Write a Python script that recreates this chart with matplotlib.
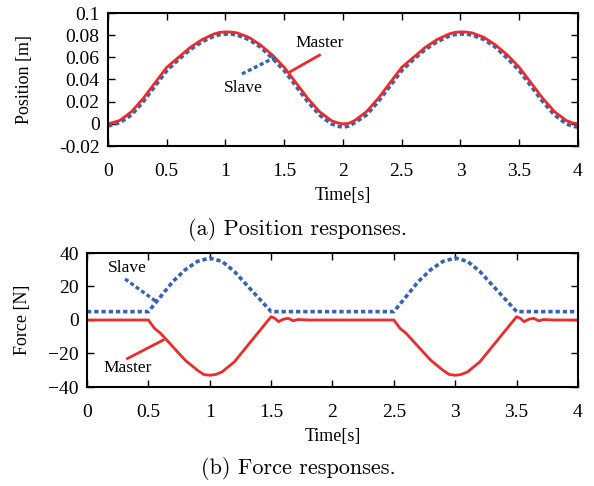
import matplotlib.pyplot as plt

# ------------------------------------------------------------------
# data
# ------------------------------------------------------------------
t_pos = [0.0, 0.1, 0.2, 0.3, 0.4, 0.5, 0.6, 0.7, 0.8, 0.9, 0.95, 1.0, 1.05,
         1.1, 1.2, 1.3, 1.4, 1.5, 1.6, 1.7, 1.8, 1.9, 1.95, 2.0, 2.05,
         2.1, 2.2, 2.3, 2.4, 2.5, 2.6, 2.7, 2.8, 2.9, 2.95, 3.0, 3.05,
         3.1, 3.2, 3.3, 3.4, 3.5, 3.6, 3.7, 3.8, 3.9, 3.95, 4.0]
pos_master = [0.000, 0.003, 0.011, 0.023, 0.037, 0.051, 0.060, 0.069, 0.076, 0.081, 0.0825, 0.083, 0.0828,
              0.082, 0.078, 0.071, 0.062, 0.051, 0.037, 0.023, 0.011, 0.003, 0.001, 0.000, 0.0005,
              0.003, 0.011, 0.023, 0.037, 0.051, 0.060, 0.069, 0.076, 0.081, 0.0825, 0.083, 0.0828,
              0.082, 0.078, 0.071, 0.062, 0.051, 0.037, 0.023, 0.011, 0.003, 0.001, 0.000]
pos_slave = [-0.002, 0.001, 0.008, 0.020, 0.034, 0.048, 0.058, 0.067, 0.074, 0.079, 0.0805, 0.081, 0.081,
             0.080, 0.076, 0.069, 0.059, 0.048, 0.034, 0.020, 0.008, 0.000, -0.002, -0.003, -0.002,
             0.001, 0.008, 0.020, 0.034, 0.048, 0.058, 0.067, 0.074, 0.079, 0.0805, 0.081, 0.081,
             0.080, 0.076, 0.069, 0.059, 0.048, 0.034, 0.020, 0.008, 0.000, -0.002, -0.003]

t_fm = [0.0, 0.5, 0.52, 0.55, 0.6, 0.7, 0.8, 0.9, 0.95, 1.0, 1.05, 1.1, 1.2, 1.3, 1.4, 1.5,
        1.53, 1.56, 1.6, 1.64, 1.68, 1.72, 1.8, 2.5,
        2.52, 2.55, 2.6, 2.7, 2.8, 2.9, 2.95, 3.0, 3.05, 3.1, 3.2, 3.3, 3.4, 3.5,
        3.53, 3.56, 3.6, 3.64, 3.68, 3.72, 3.8, 4.0]
f_master = [0, 0, -2, -5, -8, -16, -24, -30, -32.5, -33, -32.5, -31, -25, -16, -7, 2,
            1, -1, 0.5, 1, -0.5, 0.3, 0, 0,
            -2, -5, -8, -16, -24, -30, -32.5, -33, -32.5, -31, -25, -16, -7, 2,
            1, -1, 0.5, 1, -0.5, 0.3, 0, 0]

t_fs = [0.0, 0.5, 0.6, 0.7, 0.8, 0.9, 1.0, 1.1, 1.2, 1.3, 1.4, 1.5, 2.5,
        2.6, 2.7, 2.8, 2.9, 3.0, 3.1, 3.2, 3.3, 3.4, 3.5, 4.0]
f_slave = [5, 5, 14, 23, 30, 35, 37, 35, 29, 21, 13, 5, 5,
           14, 23, 30, 35, 37, 35, 29, 21, 13, 5, 5]

x_ticks = [0, 0.5, 1, 1.5, 2, 2.5, 3, 3.5, 4]
x_ticklabels = ['0', '0.5', '1', '1.5', '2', '2.5', '3', '3.5', '4']
pos_ticks = [-0.02, 0, 0.02, 0.04, 0.06, 0.08, 0.1]
pos_ticklabels = ['-0.02', '0', '0.02', '0.04', '0.06', '0.08', '0.1']
force_ticks = [-40, -20, 0, 20, 40]

RED = '#ee2a2a'
BLUE = '#3a62b4'
SERIF = 'Liberation Serif'
DOTS = (0, (1.2, 0.8))

plt.rcParams['font.family'] = SERIF

fig = plt.figure(figsize=(5.94, 4.86), dpi=100)
W, H = 594, 486
ax1 = fig.add_axes([108 / W, 1 - 146 / H, 470 / W, 133 / H])
ax2 = fig.add_axes([87 / W, 1 - 387 / H, 491 / W, 134 / H])


def style(ax):
    ax.set_xlim(0, 4)
    ax.set_xticks(x_ticks)
    ax.set_xticklabels(x_ticklabels)
    ax.tick_params(direction='in', top=True, right=True, length=5, width=1,
                   labelsize=14, pad=6)
    ax.tick_params(axis='x', pad=12)
    for s in ax.spines.values():
        s.set_linewidth(1.5)
    ax.set_xlabel('Time[s]', fontsize=13, labelpad=5)


# --- (a) position --------------------------------------------------
ax1.plot(t_pos, pos_slave, color=BLUE, lw=2.6, ls=DOTS)
ax1.plot(t_pos, pos_master, color=RED, lw=2.0)
ax1.set_ylim(-0.02, 0.1)
ax1.set_yticks(pos_ticks)
ax1.set_yticklabels(pos_ticklabels)
style(ax1)
ax1.set_ylabel('Position [m]', fontsize=13, labelpad=19)

ax1.plot([1.55, 1.80], [0.047, 0.062], color=RED, lw=2)
ax1.text(1.80, 0.073, 'Master', ha='center', va='center', fontsize=12.5)
ax1.plot([1.14, 1.44], [0.045, 0.061], color=BLUE, lw=2.4, ls=DOTS)
ax1.text(1.15, 0.032, 'Slave', ha='center', va='center', fontsize=12.5)

# --- (b) force -----------------------------------------------------
ax2.plot(t_fs, f_slave, color=BLUE, lw=2.6, ls=DOTS)
ax2.plot(t_fm, f_master, color=RED, lw=2.0)
ax2.set_ylim(-40, 40)
ax2.set_yticks(force_ticks)
style(ax2)
ax2.set_ylabel('Force [N]', fontsize=13, labelpad=12)

ax2.plot([0.31, 0.57], [24.5, 10.7], color=BLUE, lw=2.4, ls=DOTS)
ax2.text(0.33, 31, 'Slave', ha='center', va='center', fontsize=12.5)
ax2.plot([0.33, 0.62], [-23, -12], color=RED, lw=2)
ax2.text(0.33, -28.5, 'Master', ha='center', va='center', fontsize=12.5)

# --- captions ------------------------------------------------------
fig.text(298 / W, 1 - 229 / H, '(a) Position responses.', ha='center',
         va='center', fontsize=16, family='cmr10')
fig.text(298 / W, 1 - 468 / H, '(b) Force responses.', ha='center',
         va='center', fontsize=16, family='cmr10')

fig.savefig('out.png', dpi=100)
